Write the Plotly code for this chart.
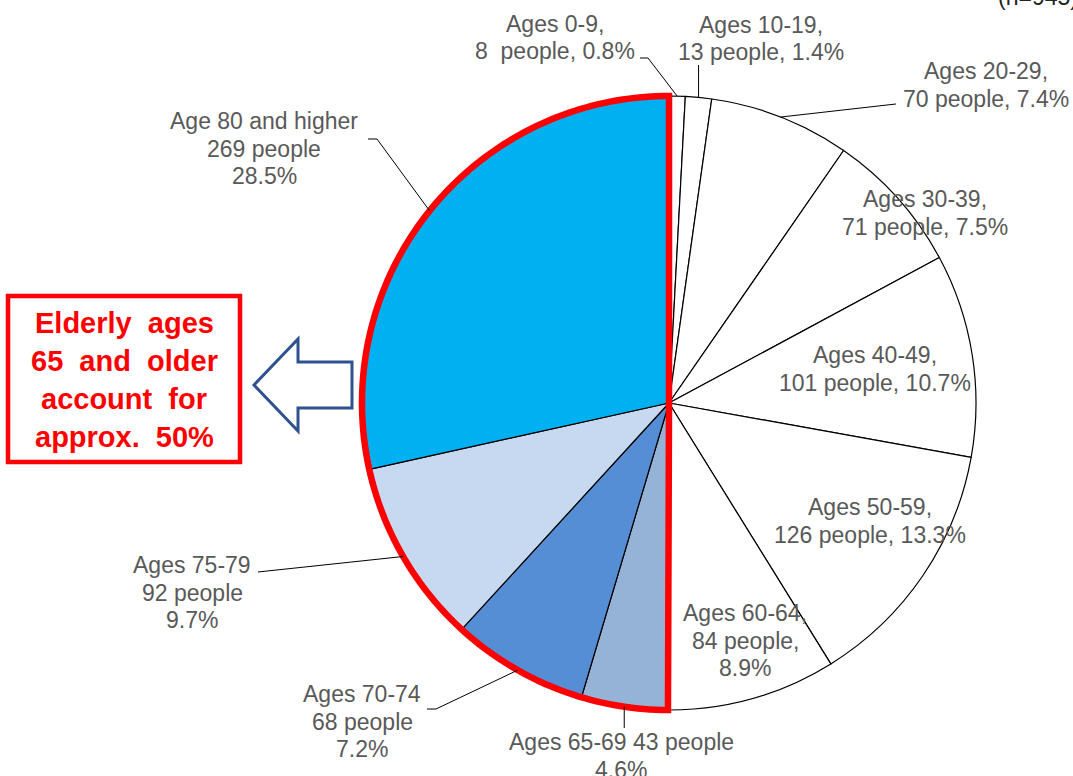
import math
import plotly.graph_objects as go

# ---------------- data ----------------
categories = ["Ages 0-9", "Ages 10-19", "Ages 20-29", "Ages 30-39", "Ages 40-49",
              "Ages 50-59", "Ages 60-64", "Ages 65-69", "Ages 70-74", "Ages 75-79",
              "Age 80 and higher"]
counts = [8, 13, 70, 71, 101, 126, 84, 43, 68, 92, 269]
slice_colors = ["#FFFFFF"] * 7 + ["#95B3D7", "#558ED5", "#C6D9F1", "#00B0F0"]
elderly_start_index = 7  # 65 and older

label_templates = [
    ["{cat},", "{n}\u00a0 people, {p}%"],
    ["{cat},", "{n} people, {p}%"],
    ["{cat},", "{n} people, {p}%"],
    ["{cat},", "{n} people, {p}%"],
    ["{cat},", "{n} people, {p}%"],
    ["{cat},", "{n} people, {p}%"],
    ["{cat},", "{n} people,", "{p}%"],
    ["{cat} {n} people", "{p}%"],
    ["{cat}", "{n} people", "{p}%"],
    ["{cat}", "{n} people", "{p}%"],
    ["{cat}", "{n} people", "{p}%"],
]
callout_lines = ["Elderly\u00a0 ages", "65\u00a0 and\u00a0 older",
                 "account\u00a0 for", "approx.\u00a0 50%"]

# ---------------- layout geometry (pixels) ----------------
W, H = 1073, 776
CX, CY, R = 669, 403, 307
# first-line centre of each label
label_pos = [(555, 24), (761, 25), (986, 71), (925, 199), (875, 355), (870, 507),
             (745, 613), (621, 742), (362, 694), (192, 565), (264, 121)]
LINE_PITCH = 27.5


def P(x, y):
    return x / W, 1 - y / H


total = sum(counts)
pct = [round(c / total * 100, 1) for c in counts]
cum = [sum(counts[:i]) for i in range(len(counts))]
mid_frac = [(cum[i] + counts[i] / 2) / total for i in range(len(counts))]


def edge(frac, r=R):
    t = 2 * math.pi * frac
    return CX + r * math.sin(t), CY - r * math.cos(t)


fig = go.Figure()
fig.add_trace(go.Pie(
    values=counts, labels=categories, sort=False, direction="clockwise", rotation=0,
    marker=dict(colors=slice_colors, line=dict(color="black", width=1.2)),
    textinfo="none", hoverinfo="label+value+percent", showlegend=False,
    domain=dict(x=[(CX - R) / W, (CX + R) / W], y=[1 - (CY + R) / H, 1 - (CY - R) / H]),
))

shapes = []
annotations = []

# red outline around elderly group
start_frac = cum[elderly_start_index] / total
pts = [(CX, CY)]
N = 160
for k in range(N + 1):
    f = start_frac + (1 - start_frac) * k / N
    pts.append(edge(f))
path = "M " + " L ".join("{:.5f},{:.5f}".format(*P(x, y)) for x, y in pts) + " Z"
shapes.append(dict(type="path", path=path, xref="paper", yref="paper",
                   line=dict(color="#FF0000", width=6.5), layer="above"))

# leader lines
def leader(points):
    p = "M " + " L ".join("{:.5f},{:.5f}".format(*P(x, y)) for x, y in points)
    shapes.append(dict(type="path", path=p, xref="paper", yref="paper",
                       line=dict(color="black", width=1), layer="above"))

e = [edge(f) for f in mid_frac]
leader([(640, 58), (648, 58), e[0]])
leader([(e[1][0], 65), e[1]])
leader([(896, 104), e[2]])
leader([(e[7][0], 728), e[7]])
leader([(427, 709), (436, 709), e[8]])
leader([(258, 572), e[9]])
leader([(368, 139), (377, 139), e[10]])

# labels
for i, tmpl in enumerate(label_templates):
    x0, y0 = label_pos[i]
    for j, t in enumerate(tmpl):
        txt = t.format(cat=categories[i], n=counts[i], p=pct[i])
        ax, ay = P(x0, y0 + j * LINE_PITCH)
        annotations.append(dict(text=txt, x=ax, y=ay, xref="paper", yref="paper",
                                xanchor="center", yanchor="middle", showarrow=False,
                                font=dict(family="Liberation Sans, Arial", size=23, color="#595959")))

# callout box
bx0, by0 = P(8, 296)
bx1, by1 = P(240, 462)
shapes.append(dict(type="rect", x0=bx0, y0=by1, x1=bx1, y1=by0, xref="paper", yref="paper",
                   line=dict(color="#FF0000", width=4.5), fillcolor="white", layer="above"))
for j, t in enumerate(callout_lines):
    ax, ay = P(124, 323 + j * 38)
    annotations.append(dict(text="<b>" + t + "</b>", x=ax, y=ay, xref="paper", yref="paper",
                            xanchor="center", yanchor="middle", showarrow=False,
                            font=dict(family="Liberation Sans, Arial", size=29, color="#FF0000")))

# hollow arrow
arrow_pts = [(254, 385), (298, 339), (298, 362), (352, 362), (352, 408), (298, 408), (298, 431)]
apath = "M " + " L ".join("{:.5f},{:.5f}".format(*P(x, y)) for x, y in arrow_pts) + " Z"
shapes.append(dict(type="path", path=apath, xref="paper", yref="paper",
                   line=dict(color="#2F528F", width=3), fillcolor="white", layer="above"))

# partially visible note at top right
nx, ny = P(996, 12)
annotations.append(dict(text="(n=945)", x=nx, y=ny, xref="paper", yref="paper",
                        xanchor="left", yanchor="bottom", showarrow=False,
                        font=dict(family="Liberation Sans, Arial", size=23, color="#222222")))

fig.update_layout(width=W, height=H, margin=dict(l=0, r=0, t=0, b=0),
                  paper_bgcolor="white", plot_bgcolor="white",
                  shapes=shapes, annotations=annotations)

fig.write_html("out.html", config={"displayModeBar": False},
               post_script="document.body.style.margin='0';")
